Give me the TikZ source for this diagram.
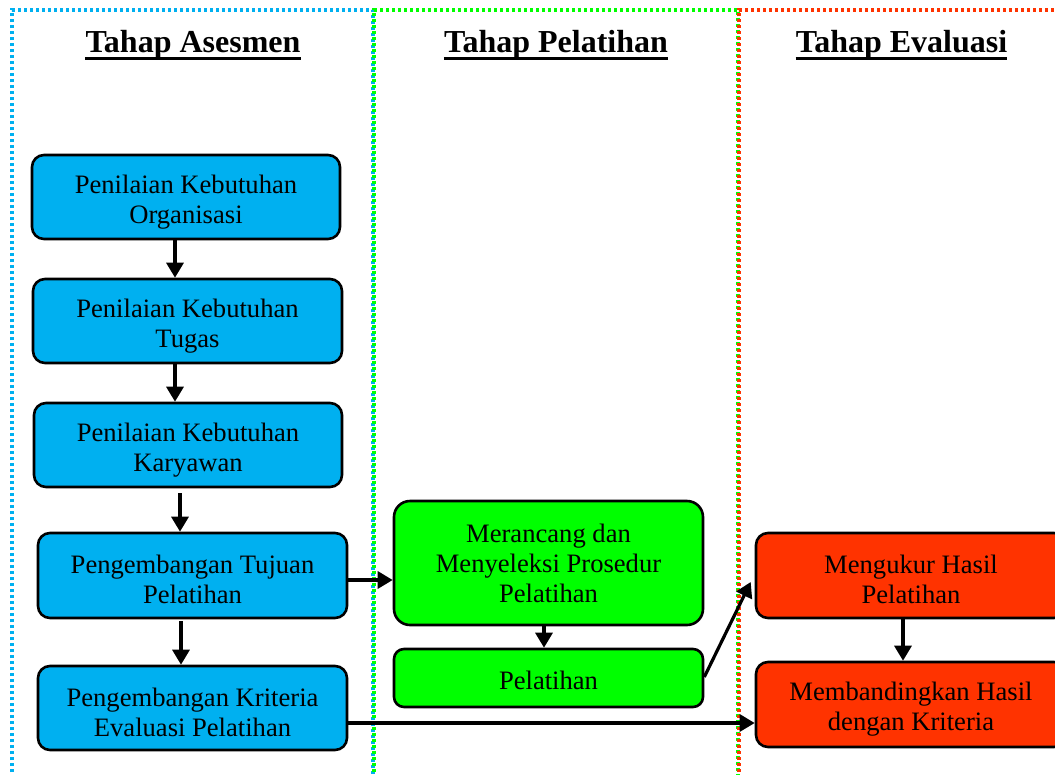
\documentclass[tikz,border=0pt]{standalone}
\usepackage{fontspec}
\setmainfont{Liberation Serif}
\usetikzlibrary{arrows.meta}
\definecolor{cblue}{RGB}{0,176,240}
\definecolor{cgreen}{RGB}{0,255,0}
\definecolor{cred}{RGB}{255,51,0}
% strut that lowers a two-line label a little inside its box
\newcommand\lowr[1]{\rule{0pt}{#1}}
\tikzset{
  frame/.style={line width=3.2pt, dash pattern=on 3pt off 3pt},
  stagebox/.style={draw=black, line width=2.6pt, rounded corners=12pt, align=center,
    inner sep=0pt, font=\fontsize{26.6pt}{30pt}\selectfont},
  title/.style={font=\fontsize{32pt}{36pt}\selectfont\bfseries, inner sep=0pt, anchor=base},
  uline/.style={line width=3.6pt},
  arr/.style={line width=3.2pt, -{Triangle[length=15pt,width=17pt]}}
}
\begin{document}
\begin{tikzpicture}[x=1pt,y=-1pt]
\useasboundingbox (0,0) rectangle (1055,774);
\clip (0,0) rectangle (1055,774);
\fill[white] (0,0) rectangle (1055,774);

% dotted stage frames
\draw[frame, cblue] (12,790) -- (12,10) -- (373,10) -- (373,790);
\draw[frame, cgreen] (374,790) -- (374,10) -- (738,10) -- (738,790);
\draw[frame, cred] (739,790) -- (739,10) -- (1070,10);

% stage titles
\node[title] (t1) at (193,52) {Tahap Asesmen};
\node[title] (t2) at (556,52) {Tahap Pelatihan};
\node[title] (t3) at (901.5,52) {Tahap Evaluasi};
\foreach \t in {t1,t2,t3}
  \draw[uline] ([yshift=-6.5pt]\t.base west) -- ([yshift=-6.5pt]\t.base east);

% assessment stage
\node[stagebox, fill=cblue, minimum width=308pt, minimum height=84pt] (b1) at (186,197)
  {\lowr{28pt}Penilaian Kebutuhan\\Organisasi};
\node[stagebox, fill=cblue, minimum width=309pt, minimum height=84pt] (b2) at (187.5,321)
  {\lowr{28pt}Penilaian Kebutuhan\\Tugas};
\node[stagebox, fill=cblue, minimum width=308pt, minimum height=84pt] (b3) at (188,445)
  {\lowr{28pt}Penilaian Kebutuhan\\Karyawan};
\node[stagebox, fill=cblue, minimum width=309pt, minimum height=85pt] (b4) at (192.5,575.5)
  {\lowr{27pt}Pengembangan Tujuan\\Pelatihan};
\node[stagebox, fill=cblue, minimum width=309pt, minimum height=84pt] (b5) at (192.5,708)
  {\lowr{27pt}Pengembangan Kriteria\\Evaluasi Pelatihan};

% training stage
\node[stagebox, fill=cgreen, minimum width=309pt, minimum height=124pt, rounded corners=16pt] (g1) at (548.5,563)
  {Merancang dan\\Menyeleksi Prosedur\\Pelatihan};
\node[stagebox, fill=cgreen, minimum width=309pt, minimum height=58pt, rounded corners=10pt] (g2) at (548.5,678)
  {\lowr{24pt}Pelatihan};

% evaluation stage
\node[stagebox, fill=cred, minimum width=310pt, minimum height=85pt] (r1) at (911,575.5)
  {\lowr{27pt}Mengukur Hasil\\Pelatihan};
\node[stagebox, fill=cred, minimum width=310pt, minimum height=85pt] (r2) at (911,704.5)
  {\lowr{27pt}Membandingkan Hasil\\dengan Kriteria};

% connectors
\draw[arr] ([xshift=-11pt]b1.south) -- ([xshift=-11pt]b1.south |- b2.north);
\draw[arr] ([xshift=-12.5pt]b2.south) -- ([xshift=-12.5pt]b2.south |- b3.north);
\draw[arr, shorten <=5pt] ([xshift=-8pt]b3.south) -- ([xshift=-8pt]b3.south |- b4.north);
\draw[arr, shorten <=2pt] ([xshift=-11.5pt]b4.south) -- ([xshift=-11.5pt]b4.south |- b5.north);
\draw[arr] ([yshift=-4.5pt]b4.east) -- ([yshift=-4.5pt]b4.east -| g1.west);
\draw[arr] ([xshift=-4.5pt]g1.south) -- ([xshift=-4.5pt]g1.south |- g2.north);
\draw[arr] ([yshift=1pt]g2.east) -- ([shift={(-4pt,-6.5pt)}]r1.west);
\draw[arr] ([yshift=-15pt]b5.east) -- ([yshift=-15pt]b5.east -| r2.west);
\draw[arr] ([xshift=-8pt]r1.south) -- ([xshift=-8pt]r1.south |- r2.north);
\end{tikzpicture}
\end{document}
